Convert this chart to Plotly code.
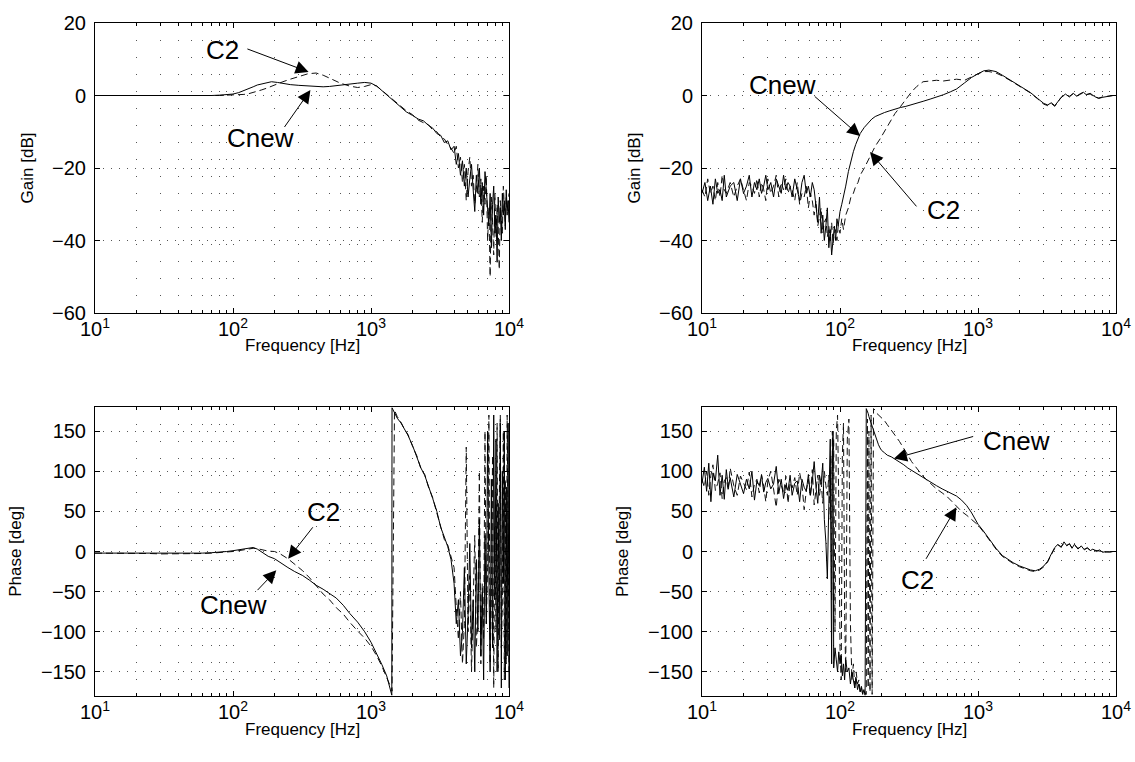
import math
import plotly.graph_objects as go

# ---------------- data ----------------
# Top-left: gain [dB]
f_tl = [10, 12, 15, 20, 25, 30, 40, 50, 60, 70, 80, 90, 100, 110, 120, 130, 140, 150, 160, 175,
        190, 210, 230, 260, 300, 350, 400, 450, 500, 550, 600, 700, 800, 900, 1000, 1100, 1200, 1300,
        1400, 1500, 1650, 1800, 2000, 2200, 2400, 2600, 2800, 3000, 3200, 3400, 3600, 3800,
        4000, 4150, 4300, 4450, 4600, 4750, 4900, 5050, 5200, 5350, 5500, 5650, 5800, 5950, 6100,
        6250, 6400, 6550, 6700, 6850, 7000, 7150, 7300, 7450, 7600, 7750, 7900, 8050, 8200, 8350,
        8500, 8650, 8800, 8950, 9100, 9250, 9400, 9550, 9700, 9850, 10000]
gain_tl_cnew = [0, 0, 0, -0.1, -0.1, -0.2, -0.2, -0.1, 0, 0, 0.1, 0.2, 0.4, 0.8, 1.3, 1.9, 2.4, 2.9, 3.2, 3.6,
                3.8, 3.6, 3.3, 3.0, 2.8, 2.6, 2.5, 2.4, 2.5, 2.7, 3.0, 3.2, 3.4, 3.6, 3.4, 2.6, 1.3, 0.2,
                -1.0, -2.0, -3.3, -4.5, -5.5, -6.5, -7.0, -8.2, -9.0, -10.5, -11.0, -13.0, -12.5, -15.0,
                -14, -19, -16, -22, -18, -25, -20, -28, -23, -19, -26, -32, -22, -27, -20,
                -30, -24, -33, -21, -26, -29, -36, -27, -42, -30, -25, -38, -33, -46, -28,
                -35, -31, -40, -27, -33, -29, -37, -26, -32, -29, -35]
gain_tl_c2 = [0, 0, 0, -0.1, -0.1, -0.2, -0.2, -0.1, 0, 0, 0, 0.1, 0.1, 0.2, 0.3, 0.5, 0.8, 1.1, 1.5, 2.0,
              2.6, 3.2, 3.8, 4.5, 5.3, 6.0, 6.2, 5.6, 4.8, 4.0, 3.4, 2.6, 2.2, 2.5, 3.0, 2.6, 1.4, 0.4,
              -0.8, -1.8, -3.0, -4.2, -5.3, -6.8, -7.5, -8.0, -9.5, -10.0, -11.5, -12.0, -13.5, -14.5,
              -16, -14, -20, -17, -24, -19, -29, -21, -17, -25, -22, -30, -26, -19, -28,
              -23, -35, -25, -30, -22, -40, -31, -50, -28, -35, -44, -27, -39, -30, -36,
              -48, -29, -34, -38, -25, -31, -36, -28, -33, -30, -27]

# Top-right: gain [dB]
f_tr = [10, 10.5, 11, 11.5, 12, 12.5, 13, 13.5, 14, 14.5, 15, 16, 17, 18, 19, 20, 21, 22, 23, 24,
        25, 26, 27, 28, 29, 30, 31.5, 33, 34.5, 36, 37.5, 39, 40.5, 42, 43.5, 45, 47, 49, 51, 53,
        55, 57, 59, 61, 63, 65,
        67, 69, 71, 73, 75, 77, 79, 81, 83, 85, 87, 89, 91, 93, 95, 97, 100, 103, 106, 110,
        115, 120, 125, 130, 135, 140, 150, 160, 170, 180, 195, 210, 230, 250, 275, 300, 330, 360,
        400, 450, 500, 560, 630, 700, 800, 900, 1000, 1100, 1200, 1350, 1500, 1700, 1900, 2100,
        2400, 2700, 3000, 3200, 3400, 3600, 3800, 4000, 4300, 4600, 4900, 5200, 5500, 5800, 6100,
        6500, 7000, 7500, 8000, 8500, 9000, 9500, 10000]
gain_tr_cnew = [-27, -24, -29, -25, -30, -23, -27, -26, -29, -22, -28, -25, -24, -29, -23, -27, -25, -22, -28, -24,
                -26, -23, -27, -25, -22, -26, -24, -28, -23, -25, -27, -22, -26, -24, -25, -28, -23, -26, -29, -24,
                -22, -27, -25, -28, -24, -26,
                -30, -35, -28, -38, -33, -40, -36, -31, -42, -37, -44, -39, -36, -40, -34, -36, -32, -30, -28, -25,
                -21, -18, -15.5, -13.5, -12, -10.5, -8.8, -7.5, -6.5, -5.8, -5.2, -4.7, -4.2, -3.7, -3.3, -3.0, -2.6, -2.2,
                -1.6, -1.0, -0.5, 0.2, 1.0, 1.8, 3.5, 5.0, 6.0, 6.8, 7.0, 6.6, 5.6, 4.3, 3.2, 2.2,
                0.8, -0.8, -2.2, -2.6, -2.0, -2.8, -1.5, -0.6, 0.4, -0.4, 0.6, -0.2, 0.5, 0.9, 0.2,
                0.6, -0.3, -0.8, -0.5, -0.3, -0.1, 0, 0]
gain_tr_c2 = [-26, -28, -23, -27, -25, -29, -24, -28, -22, -26, -27, -24, -28, -25, -23, -26, -29, -24, -25, -27,
              -23, -28, -24, -26, -29, -23, -27, -25, -22, -28, -24, -26, -23, -27, -25, -26, -29, -24, -30, -27,
              -28, -25, -31, -27, -29, -33,
              -29, -36, -33, -31, -38, -35, -34, -39, -36, -40, -35, -41, -38, -37, -40, -36, -38, -34, -37, -33,
              -31, -28, -27, -25, -24, -22, -20, -18, -16, -14, -12, -10, -7.5, -5, -3, -1, 1, 2.5,
              3.8, 4.0, 4.2, 4.0, 4.2, 4.5, 4.2, 5.2, 6.0, 6.6, 6.6, 6.2, 5.4, 4.2, 3.1, 2.1,
              0.7, -0.9, -2.4, -2.8, -2.2, -3.0, -1.6, -0.5, 0.2, -0.2, 0.5, -0.1, 0.3, 0.8, 0.3,
              0.4, -0.4, -0.7, -0.4, -0.2, 0, 0, 0]

# Bottom-left: phase [deg]
f_bl = [10, 12, 15, 20, 25, 30, 40, 50, 60, 70, 80, 90, 100, 110, 120, 130, 140, 150, 165, 180,
        200, 220, 250, 280, 320, 360, 400, 450, 500, 560, 630, 700, 800, 900, 1000, 1100, 1200, 1300,
        1380, 1415, 1420, 1480, 1550, 1650, 1750, 1850, 2000, 2150, 2300, 2450, 2600, 2800, 3000, 3200,
        3400, 3600, 3800,
        4000, 4150, 4300, 4450, 4600, 4750, 4900, 5050, 5200, 5350, 5500, 5650, 5800, 5950, 6100,
        6250, 6400, 6550, 6700, 6850, 7000, 7150, 7300, 7450, 7600, 7750, 7900, 8050, 8200, 8350,
        8500, 8650, 8800, 8950, 9100, 9250, 9400, 9550, 9700, 9850, 10000]
phase_bl_cnew = [-2, -2, -2, -2.5, -2.5, -2.5, -2.5, -2.5, -2, -1.5, -1, 0, 1, 2, 3.5, 4.5, 5, 3, -2, -6,
                 -9, -14, -20, -25, -30, -36, -42, -47, -52, -58, -67, -77, -88, -100, -113, -127, -141, -155,
                 -170, -179, 179, 172, 166, 160, 153, 145, 132, 118, 104, 95, 83, 66, 50, 30,
                 18, 6, -10,
                 -40, -90, -60, -130, -100, -20, -140, -80, 10, -120, -60, -150, -10, -100, 40,
                 -130, -50, -160, 20, -90, 150, -30, -150, 90, -120, 170, -60, 140, -150, 60,
                 -110, 160, -170, 100, -40, 150, -160, 80, -130, 160, -170]
phase_bl_c2 = [-2, -2, -2.5, -2.5, -2.5, -3, -3, -2.5, -2.5, -2, -1.5, -1, 0, 1, 2, 3, 4, 3.5, 2, 0.5,
               0, -3, -9, -16, -24, -33, -42, -53, -60, -70, -78, -88, -99, -108, -118, -130, -143, -156,
               -167, -172, -174, 176, 168, 161, 152, 146, 131, 119, 103, 96, 81, 67, 48, 32,
               15, 8, -8,
               -20, -70, -110, -50, -140, -90, 130, -100, -30, -150, -70, 20, -120, -80, 100,
               -140, -40, -110, 150, -90, -20, 170, -140, -60, 120, -170, 30, -100, 160, -150,
               60, 170, -120, -60, 150, -160, 90, -140, 170, -100, -150]

# Bottom-right: phase [deg]
f_br = [10, 10.4, 10.8, 11.2, 11.6, 12, 12.5, 13, 13.5, 14, 14.5, 15, 15.5, 16, 17, 18, 19, 20, 21, 22,
        23, 24, 25, 26, 27, 28, 29, 30, 31.5, 33, 34.5, 36, 37.5, 39, 40.5, 42, 43.5, 45, 47, 49,
        51, 53, 55, 57, 59, 61, 63, 65, 67, 69, 71, 73, 75, 77, 79,
        81, 83, 85, 86, 87, 88, 89, 90, 92, 94, 96, 98, 100, 102, 104, 106, 108, 110, 113, 116,
        119, 122, 125, 128, 131, 134, 137, 140, 143, 146, 149, 152, 155, 158, 160, 162, 165, 168, 171, 175,
        180, 185, 190, 195,
        200, 210, 220, 235, 250, 270, 290, 310, 330, 360, 390, 420, 460, 500, 550, 600, 650, 700, 760, 830,
        900, 1000, 1100, 1200, 1350, 1500, 1650, 1800, 2000, 2200, 2400, 2600, 2800, 3000, 3200, 3400,
        3600, 3800, 4000, 4200, 4400, 4600, 4800, 5000, 5300, 5600, 5900, 6200, 6500, 6800, 7200, 7600,
        8000, 8500, 9000, 9500, 10000]
phase_br_cnew = [85, 105, 75, 110, 62, 98, 88, 120, 70, 95, 65, 102, 80, 92, 68, 96, 84, 72, 90, 78,
                 100, 64, 88, 82, 95, 74, 86, 91, 78, 84, 106, 72, 90, 66, 83, 76, 95, 70, 85, 88,
                 62, 90, 80, 75, 96, 70, 88, 112, 80, 60, 95, 84, 110, 40, 12,
                 -34, 60, 140, -20, -140, 100, 150, -145, -120, -135, -150, -125, -140, -130, -155, -140, -160, -135, -150, -145,
                 -165, -150, -160, -170, -158, -172, -165, -175, -168, -178, -172, -179, 178, 175, 172, 168, 164, 160, 156, 150,
                 143, 138, 133, 129,
                 126, 123, 120, 118, 115, 112, 108, 104, 101, 97, 94, 90, 86, 82, 78, 75, 72, 69, 64, 57,
                 48, 34, 25, 16, 4, -5, -10, -14, -18, -21, -23, -24, -22, -18, -12, -3,
                 5, 9, 5, 12, 7, 10, 4, 9, 3, 7, 2, 5, 1, 3, 0, 2,
                 -1, 0, -1, 0, 0]
phase_br_c2 = [90, 80, 100, 70, 95, 108, 76, 85, 98, 66, 88, 92, 75, 104, 82, 70, 94, 86, 77, 99,
               68, 84, 90, 73, 96, 81, 62, 88, 100, 78, 55, 90, 83, 72, 94, 60, 86, 79, 92, 70,
               98, 84, 52, 76, 90, 68, 102, 58, 78, 95, 70, 86, 60, 100, 82,
               70, 95, 40, 120, -60, 150, 100, 140, -100, 150, 170, 60, -120, -160, 120, 160, -80, -150, 140, 165,
               -90, -160, -140, -170, -150, -165, -160, -175, -170, -178, -174, -176, -178, 165, -170, 150, -175, 170, -178, 178,
               176, 172, 170, 168,
               166, 163, 158, 152, 145, 137, 129, 120, 112, 103, 96, 90, 84, 78, 73, 68, 62, 56, 50, 45,
               40, 33, 24, 15, 3, -6, -11, -15, -19, -22, -24, -25, -23, -19, -13, -4,
               4, 8, 6, 10, 8, 9, 5, 8, 4, 6, 3, 4, 2, 2, 1, 1,
               0, -1, 0, 0, 0]

x_tickvals = [10, 100, 1000, 10000]
x_ticktext = ["10<sup>1</sup>", "10<sup>2</sup>", "10<sup>3</sup>", "10<sup>4</sup>"]
x_minor = [20, 30, 40, 50, 60, 70, 80, 90, 200, 300, 400, 500, 600, 700, 800, 900,
           2000, 3000, 4000, 5000, 6000, 7000, 8000, 9000]
gain_ticks = [-60, -40, -20, 0, 20]
phase_ticks = [-150, -100, -50, 0, 50, 100, 150]

# annotations: (label, text_f, text_y, tail_f, tail_y, head_f, head_y)
notes_tl = [("C2", 84, 12.6, 124, 13.0, 353, 6.5),
            ("Cnew", 158, -11.8, 232, -9.1, 364, 1.5)]
notes_tr = [("Cnew", 38, 2.9, 64, 0.1, 140, -11.2),
            ("C2", 562, -31.7, 366, -31.0, 165, -15.6)]
notes_bl = [("C2", 449, 49.6, 386, 32, 251, -9),
            ("Cnew", 101, -67, 147, -50, 206, -23.5)]
notes_br = [("Cnew", 1914, 137.6, 946, 143.8, 246, 115.7),
            ("C2", 366, -36, 414, -11, 697, 55)]

# ---------------- figure ----------------
FONT = "Liberation Sans, Arial, Helvetica, sans-serif"
fig = go.Figure()

panels = [
    ("x", "y", f_tl, gain_tl_cnew, gain_tl_c2),
    ("x2", "y2", f_tr, gain_tr_cnew, gain_tr_c2),
    ("x3", "y3", f_bl, phase_bl_cnew, phase_bl_c2),
    ("x4", "y4", f_br, phase_br_cnew, phase_br_c2),
]
for xa, ya, f, cnew, c2 in panels:
    fig.add_trace(go.Scatter(x=f, y=c2, mode="lines", xaxis=xa, yaxis=ya, showlegend=False,
                             line=dict(color="#111111", width=1, dash="7px,4px"), name="C2"))
    fig.add_trace(go.Scatter(x=f, y=cnew, mode="lines", xaxis=xa, yaxis=ya, showlegend=False,
                             line=dict(color="#000000", width=1), name="Cnew"))

dom_c1 = [95 / 1135, 509 / 1135]
dom_c2 = [702 / 1135, 1116 / 1135]
dom_r1 = [1 - 313 / 762, 1 - 23 / 762]
dom_r2 = [1 - 696 / 762, 1 - 407 / 762]


def xaxis(domain, anchor):
    return dict(
        type="log", domain=domain, anchor=anchor, range=[1, 4], automargin=False,
        tickmode="array", tickvals=x_tickvals, ticktext=x_ticktext,
        ticks="inside", ticklen=5, tickwidth=1, tickcolor="black",
        showline=True, linecolor="black", linewidth=1, mirror="ticks",
        showgrid=True, gridcolor="#555555", gridwidth=1, griddash="1px,16px",
        minor=dict(tickvals=x_minor, ticks="inside", ticklen=3, tickcolor="black",
                   showgrid=True, gridcolor="#555555", gridwidth=1, griddash="1px,16px"),
        tickfont=dict(family=FONT, size=20, color="black"),
        zeroline=False, ticklabelstandoff=-2,
    )


def yaxis(domain, anchor, rng, ticks, title):
    return dict(
        domain=domain, anchor=anchor, range=rng, automargin=False,
        tickmode="array", tickvals=ticks,
        ticks="inside", ticklen=5, tickwidth=1, tickcolor="black",
        showline=True, linecolor="black", linewidth=1, mirror="ticks",
        showgrid=True, gridcolor="#555555", gridwidth=1, griddash="1px,7px",
        tickfont=dict(family=FONT, size=20, color="black"),
        title=dict(text=title, font=dict(family=FONT, size=17, color="black"), standoff=14),
        zeroline=False, ticklabelstandoff=4,
    )


layout = dict(
    width=1135, height=762,
    margin=dict(l=0, r=0, t=0, b=0, pad=0, autoexpand=False),
    paper_bgcolor="white", plot_bgcolor="white",
    font=dict(family=FONT, color="black"),
    xaxis=xaxis(dom_c1, "y"),
    xaxis2=xaxis(dom_c2, "y2"),
    xaxis3=xaxis(dom_c1, "y3"),
    xaxis4=xaxis(dom_c2, "y4"),
    yaxis=yaxis(dom_r1, "x", [-60, 20], gain_ticks, "Gain [dB]"),
    yaxis2=yaxis(dom_r1, "x2", [-60, 20], gain_ticks, "Gain [dB]"),
    yaxis3=yaxis(dom_r2, "x3", [-180, 180], phase_ticks, "Phase [deg]"),
    yaxis4=yaxis(dom_r2, "x4", [-180, 180], phase_ticks, "Phase [deg]"),
)

annotations = []
for xr, yr in [("x", "y"), ("x2", "y2"), ("x3", "y3"), ("x4", "y4")]:
    annotations.append(dict(
        x=0.5, y=0, xref=xr + " domain", yref=yr + " domain", text="Frequency [Hz]",
        showarrow=False, xanchor="center", yanchor="middle", yshift=-33,
        font=dict(family=FONT, size=17, color="black")))

for notes, xr, yr in [(notes_tl, "x", "y"), (notes_tr, "x2", "y2"),
                      (notes_bl, "x3", "y3"), (notes_br, "x4", "y4")]:
    for label, tf, ty, af, ay, hf, hy in notes:
        annotations.append(dict(
            x=math.log10(tf), y=ty, xref=xr, yref=yr, text=label, showarrow=False,
            font=dict(family=FONT, size=26, color="black"), xanchor="center", yanchor="middle"))
        annotations.append(dict(
            x=math.log10(hf), y=hy, xref=xr, yref=yr,
            ax=math.log10(af), ay=ay, axref=xr, ayref=yr,
            text="", showarrow=True, arrowhead=2, arrowsize=2.6, arrowwidth=1, arrowcolor="black",
            standoff=0, startstandoff=0))
layout["annotations"] = annotations

fig.update_layout(**layout)
fig.write_html("out.html")
